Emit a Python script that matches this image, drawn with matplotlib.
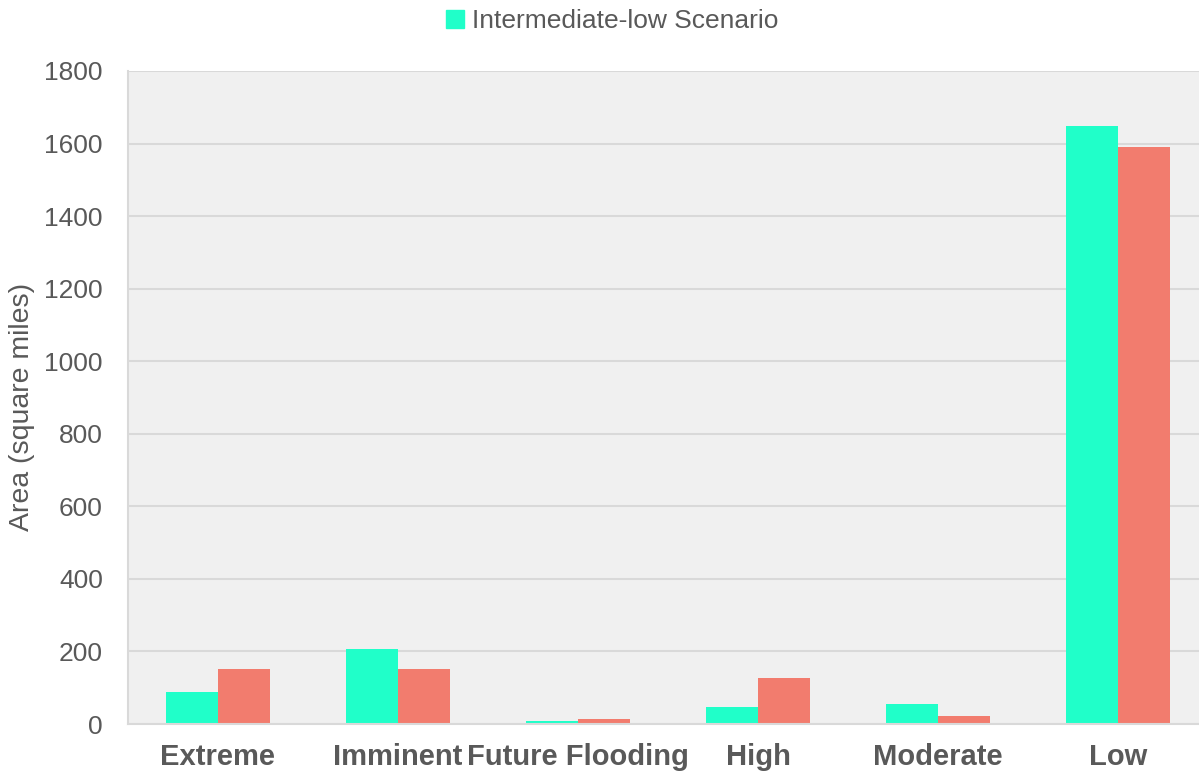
import numpy as np
import matplotlib
matplotlib.use("Agg")
import matplotlib.pyplot as plt
from matplotlib.patches import Patch

categories = ["Extreme", "Imminent", "Future Flooding", "High", "Moderate", "Low"]
intermediate_low = [87, 207, 8, 48, 56, 1649]
second_series = [151, 152, 14, 126, 21, 1590]
yticks = [0, 200, 400, 600, 800, 1000, 1200, 1400, 1600, 1800]

TEAL = "#20FFC9"
SALMON = "#F27C6E"
TXT = "#595959"
GRID = "#d9d9d9"

plt.rcParams["font.family"] = ["Liberation Sans", "DejaVu Sans"]

W, H = 1199, 771
fig = plt.figure(figsize=(W / 100, H / 100), dpi=100)
# plot area runs past the right edge of the figure, as in the reference
ax = fig.add_axes([128 / W, 47 / H, 1080 / W, 653 / H])
ax.set_facecolor("#f0f0f0")

x = np.arange(len(categories))
w = 0.287
ax.bar(x - w / 2, intermediate_low, width=w, color=TEAL, zorder=3)
ax.bar(x + w / 2, second_series, width=w, color=SALMON, zorder=3)

ax.set_xlim(-0.5, len(categories) - 0.5)
ax.set_ylim(0, 1800)
ax.set_yticks(yticks)
ax.set_xticks(x)
ax.set_xticklabels(categories, fontsize=21, fontweight="bold", color=TXT)
ax.tick_params(axis="x", length=0, pad=14)
ax.tick_params(axis="y", length=0, pad=18, labelsize=19, labelcolor=TXT)
ax.yaxis.grid(True, color=GRID, linewidth=1.5, zorder=0)
for side in ("top", "right"):
    ax.spines[side].set_visible(False)
for side in ("left", "bottom"):
    ax.spines[side].set_color(GRID)
    ax.spines[side].set_linewidth(1.5)
    ax.spines[side].set_zorder(4)

ax.set_ylabel("Area (square miles)", fontsize=20.5, color=TXT)
ax.yaxis.set_label_coords(-0.086, 0.485)

fig.legend(handles=[Patch(color=TEAL, label="Intermediate-low Scenario")],
           loc="center", bbox_to_anchor=(612 / W, 1 - 21 / H), frameon=False,
           fontsize=19, labelcolor=TXT, handlelength=0.7, handleheight=0.7,
           handletextpad=0.3)

fig.savefig("out.png", dpi=100)
